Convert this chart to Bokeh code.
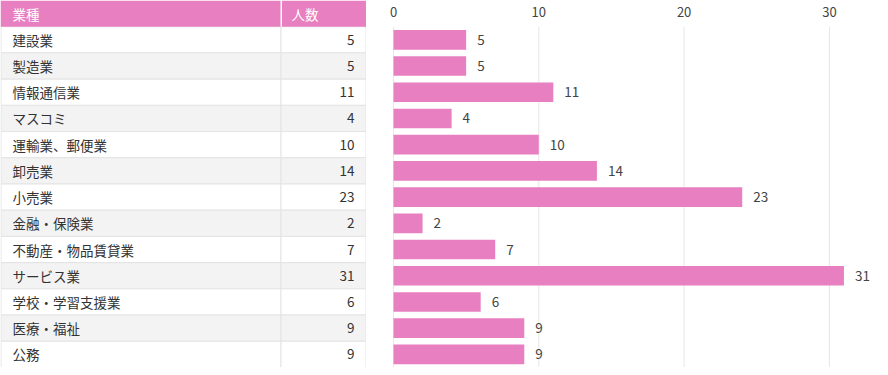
from bokeh.plotting import figure
from bokeh.models import Range1d
from bokeh.layouts import row
from bokeh.embed import file_html
from bokeh.resources import INLINE
from bokeh.core.properties import value

categories = ["建設業", "製造業", "情報通信業", "マスコミ", "運輸業、郵便業", "卸売業", "小売業",
              "金融・保険業", "不動産・物品賃貸業", "サービス業", "学校・学習支援業", "医療・福祉", "公務"]
# numbers printed in the table and next to the bars
counts = [5, 5, 11, 4, 10, 14, 23, 2, 7, 31, 6, 9, 9]
# bar lengths as drawn in the picture (the 小売業 bar reaches 24)
bar_lengths = [5, 5, 11, 4, 10, 14, 24, 2, 7, 31, 6, 9, 9]
header = ["業種", "人数"]
ticks = [0, 10, 20, 30]

PINK = "#e87fc0"
FONT = "Noto Sans CJK JP"
FS = "13.5px"
H = 367
TW = 366
CW = 514
n = len(categories)
idx = list(range(n))
HEAD_Y = -1

# ---------- table ----------
t = figure(width=TW, height=H, x_range=Range1d(0, TW), y_range=Range1d(n - 0.5, -1.5),
           x_axis_location=None, y_axis_location=None, output_backend="svg",
           toolbar_location=None, min_border=0)
t.grid.visible = False
t.outline_line_color = None

fills = ["#ffffff" if i % 2 == 0 else "#f3f3f3" for i in idx]
tops = [i - 0.5 for i in idx]
bots = [i + 0.5 for i in idx]
t.quad(left=0.5, right=280.5, top=tops, bottom=bots, fill_color=fills, line_color="#e4e4e4")
t.quad(left=280.5, right=TW - 0.5, top=tops, bottom=bots, fill_color=fills, line_color="#e4e4e4")
# header
t.quad(left=[0, 281.5], right=[280, TW], top=HEAD_Y - 0.5, bottom=HEAD_Y + 0.5,
       fill_color=PINK, line_color=None)

t.text(x=[12, 291], y=[HEAD_Y, HEAD_Y], text=header, text_baseline="middle",
       text_font=value(FONT), text_font_size=FS, text_color="white")
t.text(x=12, y=idx, text=categories, text_baseline="middle",
       text_font=value(FONT), text_font_size=FS, text_color="#333333")
t.text(x=354, y=idx, text=[str(v) for v in counts], text_baseline="middle", text_align="right",
       text_font=value(FONT), text_font_size=FS, text_color="#333333")

# ---------- bar chart ----------
scale = 14.53
x0 = 27
c = figure(width=CW, height=H, x_range=Range1d(-x0 / scale, (CW - x0) / scale),
           y_range=Range1d(n - 0.5, -1.5), x_axis_location=None, y_axis_location=None,
           output_backend="svg", toolbar_location=None, min_border=0)
c.outline_line_color = None
c.grid.visible = False

# grid lines at tick values (below the header band)
c.segment(x0=ticks, x1=ticks, y0=-0.5, y1=n - 0.5, line_color="#e6e6e6", line_width=1)
# tick labels in the header band
c.text(x=ticks, y=HEAD_Y - 0.08, text=[str(v) for v in ticks], text_align="center",
       text_baseline="middle", text_font=value(FONT), text_font_size="13px",
       text_color="#444444")

c.hbar(y=idx, left=0, right=bar_lengths, height=0.75, fill_color=PINK, line_color=None)
c.text(x=bar_lengths, y=idx, text=[str(v) for v in counts], x_offset=11, text_baseline="middle",
       text_font=value(FONT), text_font_size=FS, text_color="#444444")

layout = row(t, c)
open("out.html", "w").write(file_html(layout, INLINE))
